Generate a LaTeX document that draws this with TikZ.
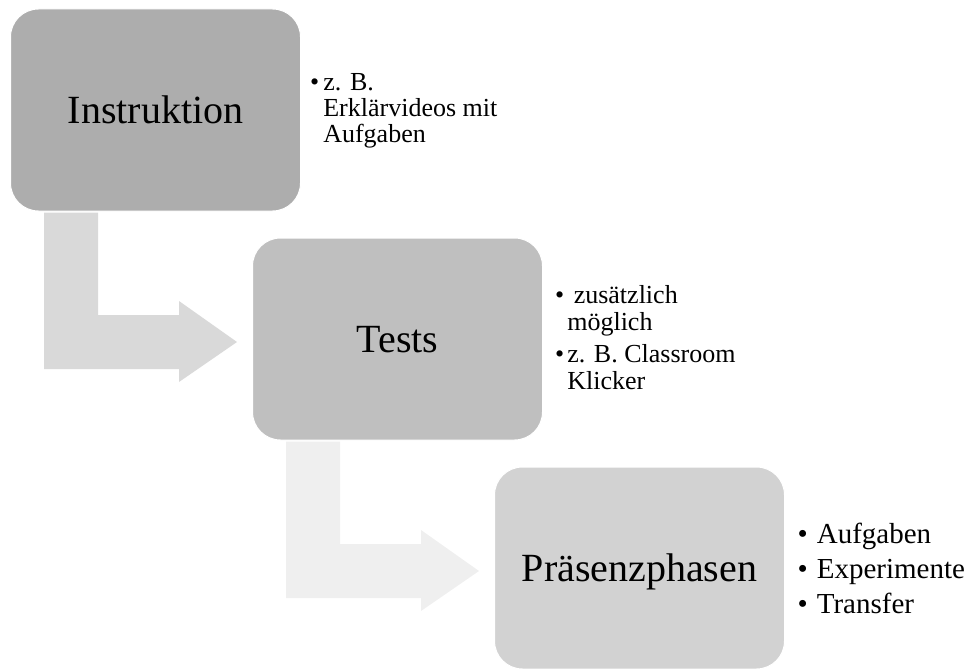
\documentclass[tikz,border=0pt]{standalone}
\usepackage{fontspec}
\setmainfont{Liberation Serif}
\usepackage{xcolor}
\usepackage{tikz}
\usetikzlibrary{calc}
\definecolor{grisA}{HTML}{ADADAD}
\definecolor{grisB}{HTML}{BFBFBF}
\definecolor{grisC}{HTML}{D2D2D2}
\definecolor{flecheA}{HTML}{D9D9D9}
\definecolor{flecheB}{HTML}{EFEFEF}

\begin{document}
\begin{tikzpicture}[x=1pt,y=-1pt]
\useasboundingbox (0,0) rectangle (969,669);
% Styles (MODIFIABLES)
\tikzstyle{bloc}=[rounded corners=28pt,minimum width=290pt,minimum height=202pt,draw=white,line width=1pt,font=\fontsize{40}{48}\selectfont,text depth=0pt]
\tikzstyle{liste}=[anchor=base west,inner sep=0pt]
% Dimensions (MODIFIABLES)
\def\PasX{242}
\def\PasY{229}
\def\OrigX{155.5}
\def\OrigY{110}
% Fleche coudee : bloc source, bloc cible, couleur
\def\FlecheCoudee#1#2#3{%
\fill[#3] ($(#1.south west)+(34,1)$) -- ($(#1.south west)+(88,1)$)
  |- ($(#2.west)+(-73,-24)$) -- ($(#2.west)+(-73,-38)$)
  -- ($(#2.west)+(-15,3)$) -- ($(#2.west)+(-73,43)$)
  -- ($(#2.west)+(-73,30)$) -| ($(#1.south west)+(34,1)$) -- cycle;}
% Blocs
\node[bloc,fill=grisA] (Instr) at ({\OrigX+(0)*\PasX},{\OrigY+(0)*\PasY}) {Instruktion};
\node[bloc,fill=grisB] (Tests) at ({\OrigX+(1)*\PasX},{\OrigY+(1)*\PasY}) {Tests};
\node[bloc,fill=grisC] (Praes) at ({\OrigX+(2)*\PasX},{\OrigY+(2)*\PasY}) {Präsenzphasen};
% Fleches
\FlecheCoudee{Instr}{Tests}{flecheA}
\FlecheCoudee{Tests}{Praes}{flecheB}
% Listes
\node[liste,font=\fontsize{26}{25.5}\selectfont] (ListeInstr) at (310,91)
  {\begin{tabular}[t]{@{}l@{\hspace{4pt}}l@{}}
   • & z. B.\\
     & Erklärvideos mit\\
     & Aufgaben
   \end{tabular}};
\node[liste,font=\fontsize{26}{27.5}\selectfont] (ListeTests) at (555,303)
  {\begin{tabular}[t]{@{}l@{\hspace{3pt}}l@{}}
   • & \ zusätzlich\\
     & möglich\\[4pt]
   • & z. B. Classroom\\
     & Klicker
   \end{tabular}};
\node[liste,font=\fontsize{29}{35}\selectfont] (ListePraes) at (797.5,543)
  {\begin{tabular}[t]{@{}l@{\hspace{9pt}}l@{}}
   • & Aufgaben\\
   • & Experimente\\
   • & Transfer
   \end{tabular}};
\end{tikzpicture}
\end{document}
